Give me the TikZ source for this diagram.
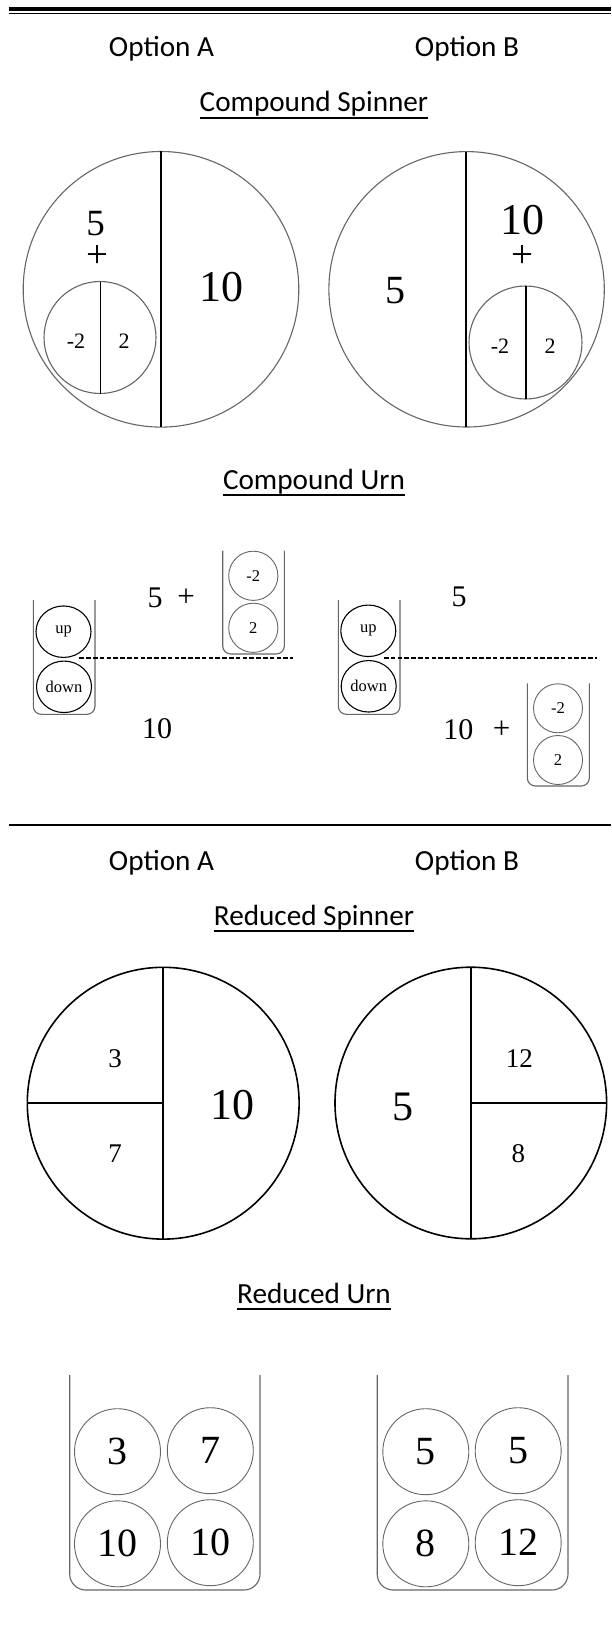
\documentclass[tikz,border=0pt]{standalone}
\usepackage{fontspec}
\setmainfont{Liberation Serif}
\newfontfamily\calfont{Carlito}
\usetikzlibrary{shapes.geometric}
\begin{document}
\begin{tikzpicture}[x=1pt,y=-1pt,
  ttl/.style={font=\calfont\fontsize{29.2}{35}\selectfont, anchor=base, inner sep=0pt},
  uline/.style={line width=2pt},
  num/.style={inner sep=0pt, font=\fontsize{#1}{#1}\selectfont},
  greyc/.style={draw=black!60, line width=1.1pt},
  divline/.style={black, line width=1.6pt},
  urnwall/.style={draw=black!60, line width=1.1pt},
  ballg/.style={circle, draw=black!60, line width=0.9pt, inner sep=0pt, minimum size=#1},
  ellb/.style={ellipse, draw=black, line width=1.1pt, inner sep=0pt, minimum width=55pt, minimum height=51.5pt, font=\fontsize{16.5}{16.5}\selectfont},
  dashl/.style={black, line width=1.6pt, dash pattern=on 4.6pt off 2.2pt}
]
\useasboundingbox (0,0) rectangle (611,1632);
\fill[white] (0,0) rectangle (611,1632);

% top double rule
\coordinate (r1a) at (8.6,9.2); \coordinate (r1b) at (611,9.2);
\coordinate (r2a) at (8.6,13.3); \coordinate (r2b) at (611,13.3);
\draw[line width=3.5pt] (r1a) -- (r1b);
\draw[line width=1.2pt] (r2a) -- (r2b);

% ---------- compound section ----------
\node[ttl] (oa1) at (161.5,57) {Option A};
\node[ttl] (ob1) at (467,57) {Option B};
\node[ttl] (cst) at (314,112) {Compound Spinner};
\draw[uline] ([yshift=-6.5pt]cst.base west) -- ([yshift=-6.5pt]cst.base east);

% compound spinner A
\coordinate (csa) at (161,289.3);
\draw[greyc] (csa) circle[radius=137.8pt];
\coordinate (csat) at (161,151.5); \coordinate (csab) at (161,427.1);
\draw[divline] (csat) -- (csab);
\coordinate (ssa) at (100,337.5);
\draw[greyc] (ssa) circle[radius=56pt];
\coordinate (ssat) at (100.5,281.5); \coordinate (ssab) at (100.5,393.5);
\draw[divline] (ssat) -- (ssab);
\node[num=37] (csa5) at (95.7,224) {5};
\node[num=39] (csap) at (97,256.5) {+};
\node[num=44] (csa10) at (221.7,286.7) {10};
\node[num=22] (csam2) at (76,341) {-2};
\node[num=22] (csa2) at (124,341) {2};

% compound spinner B
\coordinate (csb) at (466.6,289.3);
\draw[greyc] (csb) circle[radius=137.7pt];
\coordinate (csbt) at (466,151.6); \coordinate (csbb) at (466,427);
\draw[divline] (csbt) -- (csbb);
\coordinate (ssb) at (525.5,342.5);
\draw[greyc] (ssb) circle[radius=56.5pt];
\coordinate (ssbt) at (526,286); \coordinate (ssbb) at (526,399);
\draw[divline] (ssbt) -- (ssbb);
\node[num=40] (csb5) at (395.7,291) {5};
\node[num=44] (csb10) at (522.3,220.5) {10};
\node[num=39] (csbp) at (522.5,256.5) {+};
\node[num=22] (csbm2) at (500,346.7) {-2};
\node[num=22] (csb2) at (550,346.7) {2};

% compound urn title
\node[ttl] (cut) at (314,489) {Compound Urn};
\draw[uline] ([yshift=-5.5pt]cut.base west) -- ([yshift=-5.5pt]cut.base east);

% compound urn A
\draw[urnwall, rounded corners=8pt] (33.3,600) -- (33.3,714.3) -- (95,714.3) -- (95,600);
\node[ellb] (upa) at (63.5,631.7) {up};
\node[ellb] (dna) at (64,686.8) {down};
\coordinate (dla) at (79.3,658); \coordinate (dlb) at (292.7,658);
\draw[dashl] (dla) -- (dlb);
\node[num=30] (cua5) at (155,597.5) {5};
\node[num=31] (cuap) at (186,597.5) {+};
\node[num=30] (cua10) at (157,728.5) {10};
\draw[urnwall, rounded corners=8pt] (222.7,550.7) -- (222.7,654) -- (284.3,654) -- (284.3,550.7);
\node[ballg=49.2pt, font=\fontsize{16.5}{16.5}\selectfont] (sua1) at (253.3,575.8) {-2};
\node[ballg=49.2pt, font=\fontsize{16.5}{16.5}\selectfont] (sua2) at (253.3,627.8) {2};

% compound urn B
\draw[urnwall, rounded corners=8pt] (338.3,600) -- (338.3,714.3) -- (400,714.3) -- (400,600);
\node[ellb] (upb) at (368.3,630.8) {up};
\node[ellb] (dnb) at (368.7,686.3) {down};
\coordinate (dlc) at (384,658); \coordinate (dld) at (597.3,658);
\draw[dashl] (dlc) -- (dld);
\node[num=30] (cub5) at (459,597) {5};
\node[num=30] (cub10) at (458.3,729.3) {10};
\node[num=31] (cubp) at (501.7,729.3) {+};
\draw[urnwall, rounded corners=8pt] (527.3,683.3) -- (527.3,786) -- (589.3,786) -- (589.3,683.3);
\node[ballg=49pt, font=\fontsize{16.5}{16.5}\selectfont] (sub1) at (558,708.3) {-2};
\node[ballg=49pt, font=\fontsize{16.5}{16.5}\selectfont] (sub2) at (558,760) {2};

% middle rule
\coordinate (r3a) at (8.6,825); \coordinate (r3b) at (611,825);
\draw[line width=2.2pt] (r3a) -- (r3b);

% ---------- reduced section ----------
\node[ttl] (oa2) at (161.5,870) {Option A};
\node[ttl] (ob2) at (467,870) {Option B};
\node[ttl] (rst) at (314,925) {Reduced Spinner};
\draw[uline] ([yshift=-6pt]rst.base west) -- ([yshift=-6pt]rst.base east);

% reduced spinner A
\coordinate (rsa) at (163.2,1103.2);
\draw[divline] (rsa) circle[radius=135.9pt];
\coordinate (rsat) at (163.2,967.3); \coordinate (rsab) at (163.2,1239.1);
\coordinate (rsal) at (27.3,1103.2);
\draw[divline] (rsat) -- (rsab);
\draw[divline] (rsal) -- (rsa);
\node[num=27] (rsa3) at (115,1058.3) {3};
\node[num=27] (rsa7) at (115,1153.3) {7};
\node[num=44] (rsa10) at (232.3,1105) {10};

% reduced spinner B
\coordinate (rsb) at (470.8,1103);
\draw[divline] (rsb) circle[radius=135.8pt];
\coordinate (rsbt) at (470.8,967.2); \coordinate (rsbb) at (470.8,1238.8);
\coordinate (rsbr) at (606.6,1103);
\draw[divline] (rsbt) -- (rsbb);
\draw[divline] (rsb) -- (rsbr);
\node[num=42] (rsb5) at (402.7,1106.7) {5};
\node[num=27] (rsb12) at (519.3,1058.3) {12};
\node[num=27] (rsb8) at (518.3,1153.3) {8};

% reduced urn title
\node[ttl] (rut) at (314,1303) {Reduced Urn};
\draw[uline] ([yshift=-5.5pt]rut.base west) -- ([yshift=-5.5pt]rut.base east);

% reduced urn A
\draw[urnwall, rounded corners=16pt] (69.7,1375) -- (69.7,1590) -- (260,1590) -- (260,1375);
\node[ballg=86pt, font=\fontsize{40}{40}\selectfont] (rua1) at (117.5,1451.7) {3};
\node[ballg=86pt, font=\fontsize{40}{40}\selectfont] (rua2) at (210.3,1450.7) {7};
\node[ballg=86pt, font=\fontsize{40}{40}\selectfont] (rua3) at (117.5,1543.8) {10};
\node[ballg=86pt, font=\fontsize{40}{40}\selectfont] (rua4) at (210.3,1542.7) {10};

% reduced urn B
\draw[urnwall, rounded corners=16pt] (377.2,1375) -- (377.2,1590) -- (568,1590) -- (568,1375);
\node[ballg=86pt, font=\fontsize{40}{40}\selectfont] (rub1) at (425.8,1451.7) {5};
\node[ballg=86pt, font=\fontsize{40}{40}\selectfont] (rub2) at (518.2,1450.7) {5};
\node[ballg=86pt, font=\fontsize{40}{40}\selectfont] (rub3) at (425.8,1543.8) {8};
\node[ballg=86pt, font=\fontsize{40}{40}\selectfont] (rub4) at (518.2,1542.7) {12};
\end{tikzpicture}
\end{document}
